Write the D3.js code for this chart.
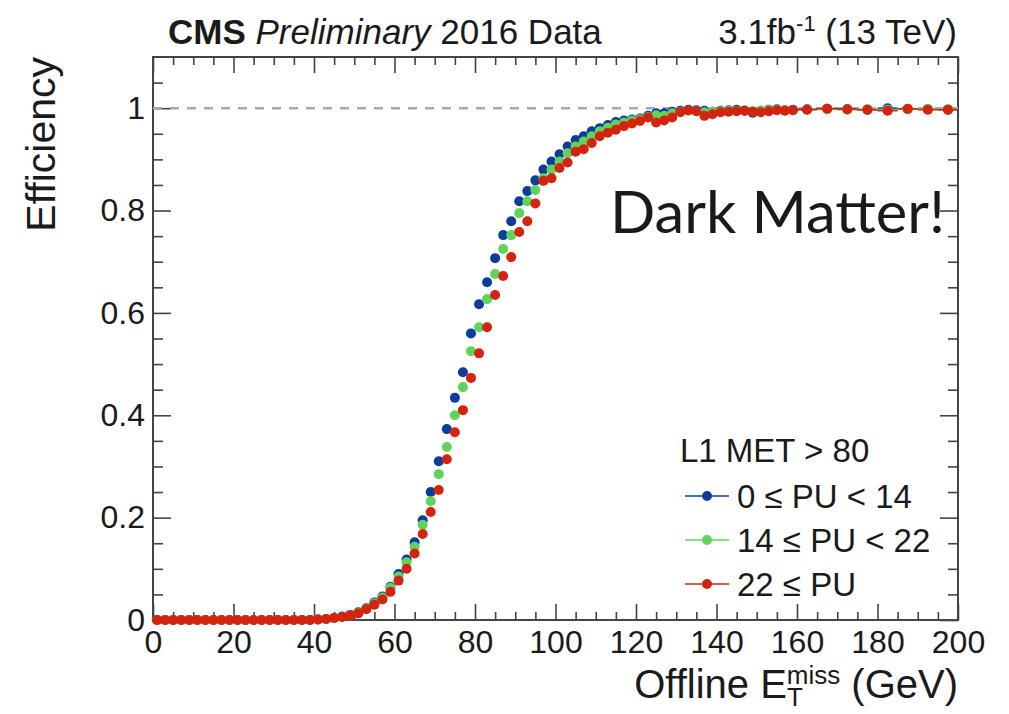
<!DOCTYPE html>
<html>
<head>
<meta charset="utf-8">
<script src="https://cdn.jsdelivr.net/npm/d3@7/dist/d3.min.js"></script>
<style>
  body { margin: 0; background: #fff; }
  text { font-family: "Liberation Sans", Arial, Helvetica, sans-serif; fill: #1a1a1a; }
</style>
</head>
<body>
<div id="chart"></div>
<script>
// bin centres (GeV): 2 GeV bins up to 160, 5 GeV bins above
var binCenters = [1, 3, 5, 7, 9, 11, 13, 15, 17, 19, 21, 23, 25, 27, 29, 31, 33, 35, 37, 39,
  41, 43, 45, 47, 49, 51, 53, 55, 57, 59, 61, 63, 65, 67, 69, 71, 73, 75, 77, 79,
  81, 83, 85, 87, 89, 91, 93, 95, 97, 99, 101, 103, 105, 107, 109, 111, 113, 115, 117, 119,
  121, 123, 125, 127, 129, 131, 133, 135, 137, 139, 141, 143, 145, 147, 149, 151, 153, 155, 157, 159,
  162.5, 167.5, 172.5, 177.5, 182.5, 187.5, 192.5, 197.5];
var binHalfWidths = [1, 1, 1, 1, 1, 1, 1, 1, 1, 1, 1, 1, 1, 1, 1, 1, 1, 1, 1, 1,
  1, 1, 1, 1, 1, 1, 1, 1, 1, 1, 1, 1, 1, 1, 1, 1, 1, 1, 1, 1,
  1, 1, 1, 1, 1, 1, 1, 1, 1, 1, 1, 1, 1, 1, 1, 1, 1, 1, 1, 1,
  1, 1, 1, 1, 1, 1, 1, 1, 1, 1, 1, 1, 1, 1, 1, 1, 1, 1, 1, 1,
  2.5, 2.5, 2.5, 2.5, 2.5, 2.5, 2.5, 2.5];

// 0 <= PU < 14
var effLowPU = [0, 0, 0, 0, 0, 0, 0, 0, 0, 0, 0, 0, 0, 0, 0, 0, 0, 0, 0, 0,
  0.001, 0.002, 0.004, 0.007, 0.010, 0.015, 0.023, 0.034, 0.046, 0.065,
  0.090, 0.118, 0.152, 0.195, 0.250, 0.310, 0.373, 0.434, 0.484, 0.560,
  0.617, 0.660, 0.707, 0.752, 0.779, 0.818, 0.838, 0.859, 0.880, 0.896,
  0.910, 0.925, 0.938, 0.945, 0.955, 0.961, 0.967, 0.973, 0.976, 0.978,
  0.980, 0.985, 0.990, 0.990, 0.993, 0.995, 0.997, 0.996, 0.995, 0.993,
  0.995, 0.996, 0.997, 0.995, 0.991, 0.995, 0.997, 0.998, 0.996, 0.997,
  0.998, 0.999, 0.998, 0.997, 1.000, 0.998, 0.998, 0.997];

// 14 <= PU < 22
var effMidPU = [0, 0, 0, 0, 0, 0, 0, 0, 0, 0, 0, 0, 0, 0, 0, 0, 0, 0, 0, 0,
  0.001, 0.002, 0.004, 0.006, 0.009, 0.014, 0.022, 0.032, 0.044, 0.063,
  0.085, 0.113, 0.143, 0.186, 0.232, 0.285, 0.338, 0.400, 0.455, 0.525,
  0.572, 0.627, 0.676, 0.725, 0.752, 0.795, 0.818, 0.840, 0.863, 0.880,
  0.896, 0.912, 0.925, 0.935, 0.945, 0.955, 0.962, 0.968, 0.972, 0.976,
  0.978, 0.983, 0.986, 0.985, 0.990, 0.993, 0.995, 0.994, 0.992, 0.993,
  0.994, 0.995, 0.995, 0.996, 0.994, 0.995, 0.996, 0.997, 0.996, 0.996,
  0.997, 0.998, 0.997, 0.998, 0.997, 0.998, 0.999, 0.998];

// 22 <= PU
var effHighPU = [0, 0, 0, 0, 0, 0, 0, 0, 0, 0, 0, 0, 0, 0, 0, 0, 0, 0, 0, 0,
  0.001, 0.002, 0.004, 0.006, 0.009, 0.013, 0.021, 0.030, 0.040, 0.055,
  0.077, 0.100, 0.130, 0.168, 0.211, 0.254, 0.314, 0.367, 0.410, 0.473,
  0.521, 0.572, 0.635, 0.672, 0.709, 0.758, 0.779, 0.814, 0.858, 0.863,
  0.883, 0.894, 0.915, 0.920, 0.932, 0.945, 0.952, 0.958, 0.965, 0.970,
  0.975, 0.982, 0.972, 0.976, 0.982, 0.992, 0.996, 0.994, 0.985, 0.988,
  0.992, 0.993, 0.994, 0.995, 0.993, 0.992, 0.994, 0.996, 0.995, 0.996,
  0.997, 0.999, 0.998, 0.997, 0.995, 0.999, 0.997, 0.997];

var seriesLabels = ["0 \u2264 PU < 14", "14 \u2264 PU < 22", "22 \u2264 PU"];
var seriesColors = ["#0b3d9e", "#62d35a", "#d4230f"];
var legendTitle = "L1 MET > 80";

var xMajorTicks = [0, 20, 40, 60, 80, 100, 120, 140, 160, 180, 200];
var xMinorTicks = [5, 10, 15, 25, 30, 35, 45, 50, 55, 65, 70, 75, 85, 90, 95, 105, 110, 115,
  125, 130, 135, 145, 150, 155, 165, 170, 175, 185, 190, 195];
var yMajorTicks = [0, 0.2, 0.4, 0.6, 0.8, 1];
var yMinorTicks = [0.05, 0.1, 0.15, 0.25, 0.3, 0.35, 0.45, 0.5, 0.55, 0.65, 0.7, 0.75,
  0.85, 0.9, 0.95, 1.05];

var W = 1009, H = 714;
var svg = d3.select("#chart").append("svg")
    .attr("width", W)
    .attr("height", H);

var x = d3.scaleLinear().domain([0, 200]).range([153, 958]);
var y = d3.scaleLinear().domain([0, 1.1]).range([620, 57]);

var axisColor = "#444";

// ticks on all four sides, pointing inward
function styleAxis(g) {
  g.select(".domain").remove();
  g.selectAll(".tick line").attr("stroke", axisColor).attr("stroke-width", 1.6);
  g.selectAll(".tick text").style("font-size", "32px").attr("fill", "#1a1a1a");
}

svg.append("g")
    .attr("transform", "translate(0," + y(0) + ")")
    .call(d3.axisBottom(x).tickValues(xMajorTicks).tickSize(-16).tickPadding(10)
      .tickFormat(d3.format("d")))
    .call(styleAxis);
svg.append("g")
    .attr("transform", "translate(0," + y(0) + ")")
    .call(d3.axisBottom(x).tickValues(xMinorTicks).tickSize(-8).tickFormat(""))
    .call(styleAxis);
svg.append("g")
    .attr("transform", "translate(0," + y(1.1) + ")")
    .call(d3.axisTop(x).tickValues(xMajorTicks).tickSize(-16).tickFormat(""))
    .call(styleAxis);
svg.append("g")
    .attr("transform", "translate(0," + y(1.1) + ")")
    .call(d3.axisTop(x).tickValues(xMinorTicks).tickSize(-8).tickFormat(""))
    .call(styleAxis);

svg.append("g")
    .attr("transform", "translate(" + x(0) + ",0)")
    .call(d3.axisLeft(y).tickValues(yMajorTicks).tickSize(-18).tickPadding(8)
      .tickFormat(function(d) { return d === 0 || d === 1 ? String(d) : d3.format(".1f")(d); }))
    .call(styleAxis);
svg.append("g")
    .attr("transform", "translate(" + x(0) + ",0)")
    .call(d3.axisLeft(y).tickValues(yMinorTicks).tickSize(-10).tickFormat(""))
    .call(styleAxis);
svg.append("g")
    .attr("transform", "translate(" + x(200) + ",0)")
    .call(d3.axisRight(y).tickValues(yMajorTicks).tickSize(-18).tickFormat(""))
    .call(styleAxis);
svg.append("g")
    .attr("transform", "translate(" + x(200) + ",0)")
    .call(d3.axisRight(y).tickValues(yMinorTicks).tickSize(-10).tickFormat(""))
    .call(styleAxis);

// frame
svg.append("rect")
    .attr("x", x(0))
    .attr("y", y(1.1))
    .attr("width", x(200) - x(0))
    .attr("height", y(0) - y(1.1))
    .attr("fill", "none")
    .attr("stroke", axisColor)
    .attr("stroke-width", 2);

// dashed line at efficiency = 1
svg.append("line")
    .attr("x1", x(0)).attr("x2", x(200))
    .attr("y1", y(1)).attr("y2", y(1))
    .attr("stroke", "#a8a8a8")
    .attr("stroke-width", 2.5)
    .attr("stroke-dasharray", "9,8");

// data points
var allSeries = [effLowPU, effMidPU, effHighPU];
allSeries.forEach(function(vals, si) {
  var pts = binCenters.map(function(c, i) {
    return {x: c, hw: binHalfWidths[i], v: vals[i]};
  });
  var g = svg.append("g").attr("class", "series");
  g.selectAll("line")
      .data(pts)
      .enter().append("line")
      .attr("x1", function(d) { return x(d.x - d.hw); })
      .attr("x2", function(d) { return x(d.x + d.hw); })
      .attr("y1", function(d) { return y(d.v); })
      .attr("y2", function(d) { return y(d.v); })
      .attr("stroke", seriesColors[si])
      .attr("stroke-width", 1.5);
  g.selectAll("circle")
      .data(pts)
      .enter().append("circle")
      .attr("cx", function(d) { return x(d.x); })
      .attr("cy", function(d) { return y(d.v); })
      .attr("r", 5)
      .attr("fill", seriesColors[si]);
});

// legend
var legend = svg.append("g");
legend.append("text")
    .attr("x", 680).attr("y", 462)
    .style("font-size", "33px")
    .text(legendTitle);
seriesLabels.forEach(function(lab, i) {
  var ly = 496 + i * 44;
  legend.append("line")
      .attr("x1", 685).attr("x2", 729)
      .attr("y1", ly).attr("y2", ly)
      .attr("stroke", seriesColors[i])
      .attr("stroke-width", 1.5);
  legend.append("circle")
      .attr("cx", 707).attr("cy", ly).attr("r", 5)
      .attr("fill", seriesColors[i]);
  legend.append("text")
      .attr("x", 737).attr("y", ly + 12)
      .style("font-size", "33px")
      .text(lab);
});

// header
var head = svg.append("text")
    .attr("x", 168).attr("y", 44)
    .style("font-size", "35px");
head.append("tspan").style("font-weight", "bold").text("CMS ");
head.append("tspan").style("font-style", "italic").text("Preliminary");
head.append("tspan").text(" 2016 Data");

var lumi = svg.append("text")
    .attr("x", 957).attr("y", 44)
    .attr("text-anchor", "end")
    .style("font-size", "35px");
lumi.append("tspan").text("3.1fb");
lumi.append("tspan").attr("dy", -13).style("font-size", "22px").text("-1");
lumi.append("tspan").attr("dy", 13).text(" (13 TeV)");

// axis titles
svg.append("text")
    .attr("transform", "translate(55," + y(1.1) + ") rotate(-90)")
    .attr("text-anchor", "end")
    .style("font-size", "41px")
    .text("Efficiency");

var xt = svg.append("text")
    .attr("x", 958).attr("y", 698)
    .attr("text-anchor", "end")
    .style("font-size", "40px");
xt.append("tspan").text("Offline E");
xt.append("tspan").attr("dy", 8).style("font-size", "26px").text("T");
xt.append("tspan").attr("dx", -16).attr("dy", -22).style("font-size", "26px").text("miss");
xt.append("tspan").attr("dy", 14).text(" (GeV)");

// annotation
svg.append("text")
    .attr("x", 610).attr("y", 233)
    .attr("textLength", 335)
    .attr("lengthAdjust", "spacingAndGlyphs")
    .style("font-family", "Lato, 'Open Sans', sans-serif")
    .style("font-size", "58px")
    .attr("fill", "#000")
    .text("Dark Matter!");
</script>
</body>
</html>
